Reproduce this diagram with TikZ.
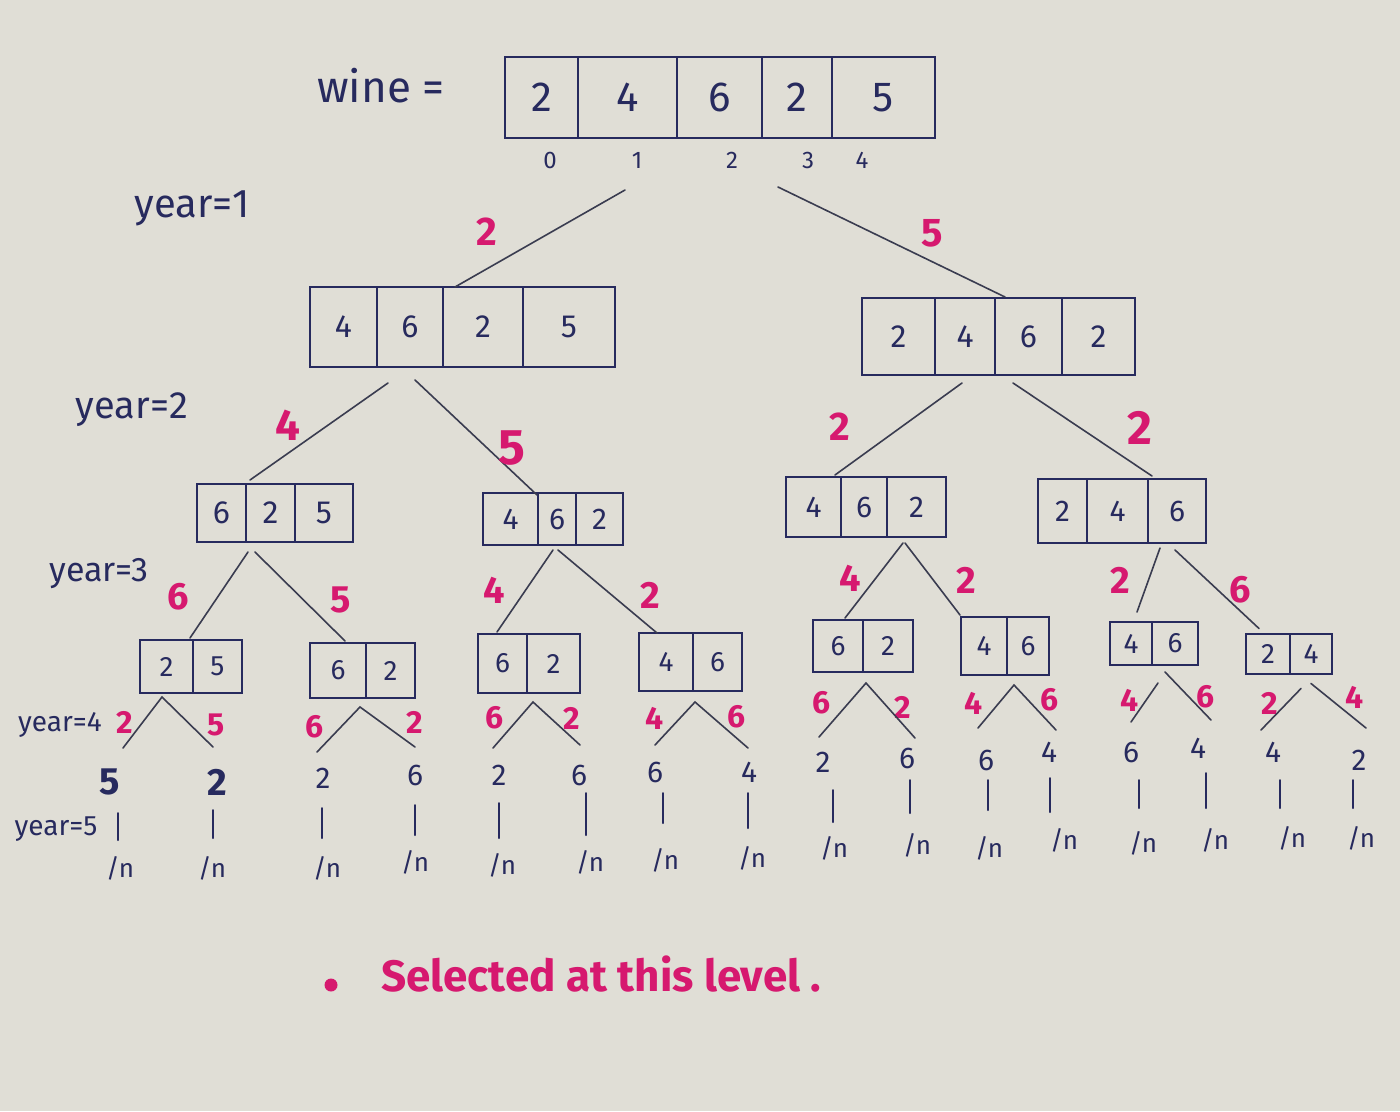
\documentclass[tikz,border=0pt]{standalone}
\usepackage{fontspec}
\setmainfont{Fira Sans}
\usetikzlibrary{calc}

\definecolor{paper}{HTML}{E0DED6}
\definecolor{ink}{HTML}{272A5E}
\definecolor{marker}{HTML}{D6196F}
\definecolor{pencil}{HTML}{3A3C50}

\newcommand\fs[1]{\fontsize{#1}{#1}\selectfont}

\tikzset{
  cell/.style={draw=ink, line width=2pt, inner sep=0pt, outer sep=0pt, text=ink, anchor=west},
  stub/.style={inner sep=0pt, outer sep=0pt, minimum size=0pt, anchor=west},
  edge/.style={draw=pencil, line width=1.6pt, line cap=round},
  stem/.style={draw=ink, line width=2pt, line cap=round},
  pick/.style={text=marker, font=\bfseries\fs{#1}, inner sep=0pt},
  pick/.default=36,
  hand/.style={text=ink, font=\fs{#1}, inner sep=0pt},
  hand/.default=28,
}

% one array drawn as a row of cells: name, left x, centre y, height, font size, widths/values
\newcommand\arrbox[6]{%
  \node[stub] (#1-0) at (#2,#3) {};
  \foreach \w/\v [count=\i] in {#6} {%
    \pgfmathtruncatemacro\j{\i-1}%
    \node[cell, minimum width=\w pt, minimum height=#4 pt, font=\fs{#5}] (#1-\i) at (#1-\j.east) {\v};
  }%
}

\begin{document}
\begin{tikzpicture}[x=1pt, y=-1pt]
\useasboundingbox (0,0) rectangle (1400,1111);
\fill[paper] (0,0) rectangle (1400,1111);

% ---- arrays ----
\node[hand=44] (wine) at (381,86) {wine =};
\arrbox{r}{505}{97.5}{81}{42}{73/2,99/4,85/6,70/2,103/5}
\foreach \k/\x in {0/550,1/637,2/732,3/808,4/862}
  \node[hand=24] (ix\k) at (\x,160) {\k};

\arrbox{a}{310}{327}{80}{32}{67/4,66/6,80/2,92/5}
\arrbox{b}{862}{336.5}{77}{32}{73/2,60/4,67/6,73/2}

\arrbox{p}{197}{513}{58}{32}{49/6,49/2,58/5}
\arrbox{q}{483}{519}{52}{30}{55/4,38/6,47/2}
\arrbox{s}{786}{507}{60}{30}{55/4,46/6,59/2}
\arrbox{t}{1038}{511}{64}{30}{49/2,61/4,58/6}

\arrbox{pa}{140}{666.5}{53}{28}{53/2,49/5}
\arrbox{pb}{310}{670.5}{55}{28}{56/6,49/2}
\arrbox{qa}{478}{663.5}{59}{28}{49/6,53/2}
\arrbox{qb}{639}{662}{58}{28}{54/4,49/6}
\arrbox{sa}{813}{646}{52}{28}{50/6,50/2}
\arrbox{sb}{961}{646}{58}{28}{46/4,42/6}
\arrbox{ta}{1110}{643.5}{43}{28}{42/4,46/6}
\arrbox{tb}{1246}{653.5}{40}{28}{44/2,42/4}

% ---- year labels ----
\node[hand=40] (y1) at (192,208) {year=1};
\node[hand=38] (y2) at (132,410) {year=2};
\node[hand=34] (y3) at (99,574) {year=3};
\node[hand=28] (y4) at (60,725) {year=4};
\node[hand=28] (y5) at (56,829) {year=5};

% ---- branches between arrays ----
\draw[edge] ([shift={(-2.5,52)}]r-2.south) -- ([shift={(-28,0)}]a-3.north);
\draw[edge] ([shift={(-19,49)}]r-4.south) -- ([shift={(-23.5,-1)}]b-3.north);
\draw[edge] ([shift={(-22,16)}]a-2.south) -- ([shift={(-20.5,-4)}]p-2.north);
\draw[edge] ([shift={(5,13)}]a-2.south) -- ([shift={(-20,2)}]q-2.north);
\draw[edge] ([shift={(-3,8)}]b-2.south) -- ([shift={(21.5,-2)}]s-1.north);
\draw[edge] ([shift={(-15.5,8)}]b-3.south) -- ([shift={(-25,-3)}]t-3.north);
\draw[edge] ([shift={(-22.5,10)}]p-2.south) -- ([shift={(-27.5,-2)}]pa-2.north);
\draw[edge] ([shift={(-15.5,10)}]p-2.south) -- ([shift={(7,-2)}]pb-1.north);
\draw[edge] ([shift={(-4,5)}]q-2.south) -- ([shift={(-5.5,-2)}]qa-1.north);
\draw[edge] ([shift={(1,5)}]q-2.south) -- ([shift={(-9,0)}]qb-1.north);
\draw[edge] ([shift={(-13.5,6)}]s-3.south) -- ([shift={(7,-2)}]sa-1.north);
\draw[edge] ([shift={(-11.5,6)}]s-3.south) -- ([shift={(-24,-2)}]sb-1.north);
\draw[edge] ([shift={(-17,5)}]t-3.south) -- ([shift={(6,-10)}]ta-1.north);
\draw[edge] ([shift={(-2,7)}]t-3.south) -- ([shift={(-9,-5)}]tb-1.north);

% ---- chosen values on each branch ----
\node[pick=40] (c1) at (487,232) {2};
\node[pick=40] (c2) at (932,233) {5};
\node[pick=44] (c3) at (288,425) {4};
\node[pick=50] (c4) at (512,448) {5};
\node[pick=40] (c5) at (840,427) {2};
\node[pick=48] (c6) at (1140,428) {2};
\foreach \k/\x/\y/\v in {7/178/597/6, 8/341/600/5, 9/494/590/4, 10/650/595/2,
    11/850/578/4, 12/966/580/2, 13/1120/580/2, 14/1240/590/6}
  \node[pick=38] (c\k) at (\x,\y) {\v};
\foreach \k/\x/\y/\v in {15/125/722/2, 16/216/725/5, 17/315/727/6, 18/415/722/2,
    19/495/718/6, 20/572/718/2, 21/655/718/4, 22/737/717/6,
    23/822/703/6, 24/903/707/2, 25/974/703/4, 26/1050/700/6,
    27/1130/700/4, 28/1206/697/6, 29/1270/703/2, 30/1355/697/4}
  \node[pick=32] (c\k) at (\x,\y) {\v};

% ---- last picks ----
\node[hand, font=\bfseries\fs{38}] (v1) at (110,782) {5};
\node[hand, font=\bfseries\fs{38}] (v2) at (217,782) {2};
\foreach \i/\x/\y/\v in {3/323/778/2, 4/415/775/6, 5/499/775/2, 6/579/775/6,
    7/655/772/6, 8/749/772/4, 9/823/762/2, 10/907/758/6,
    11/986/760/6, 12/1049/752/4, 13/1131/752/6, 14/1198/748/4,
    15/1273/752/4, 16/1359/760/2}
  \node[hand=30] (v\i) at (\x,\y) {\v};

\foreach \i/\x/\y in {1/120/868, 2/212/868, 3/327/868, 4/415/862, 5/502/865,
    6/590/862, 7/665/860, 8/752/858, 9/834/848, 10/917/845, 11/989/848,
    12/1064/840, 13/1143/843, 14/1215/840, 15/1292/838, 16/1361/838}
  \node[hand=26] (n\i) at (\x,\y) {/n};

% branches from the two-cell arrays down to the last picks
\foreach \c/\sx/\sy/\l/\lx/\ly/\r/\rx/\ry in {
    pa-1/-4.5/4/1/13/-34/2/-4/-35,
    pb-1/22/9/3/-6/-26/4/0/-28,
    qa-2/-20.5/9/5/-6/-27/6/1/-30,
    qb-2/-22.5/11/7/0/-27/8/-1/-24,
    sa-2/-22/11/9/-4/-25/10/8/-20,
    sb-2/-14/10/11/-8/-32/12/7/-22}
  \draw[edge] ([shift={(\lx,\ly)}]v\l.center) -- ([shift={(\sx,\sy)}]\c.south)
              -- ([shift={(\rx,\ry)}]v\r.center);
\draw[edge] ([shift={(-17,18)}]ta-2.south) -- ([shift={(0,-30)}]v13.center);
\draw[edge] ([shift={(-10,7)}]ta-2.south) -- ([shift={(13,-28)}]v14.center);
\draw[edge] ([shift={(-10,15)}]tb-2.south) -- ([shift={(-12,-22)}]v15.center);
\draw[edge] ([shift={(0,10)}]tb-2.south) -- ([shift={(7,-32)}]v16.center);

% short stems from each last pick down to its /n
\foreach \i/\ax/\ay/\bx/\by in {
    1/8/31/-2/-28, 2/-4/28/1/-30, 3/-1/30/-5/-30, 4/0/30/0/-27,
    5/0/28/-3/-27, 6/7/18/-4/-27, 7/8/21/-2/-37, 8/-1/21/-4/-30,
    9/10/28/-1/-26, 10/3/22/-7/-32, 11/2/20/-1/-38, 12/1/26/-14/-28,
    13/8/28/-4/-35, 14/8/25/-9/-32, 15/7/28/-12/-30, 16/-6/20/-8/-30}
  \draw[stem] ([shift={(\ax,\ay)}]v\i.center) -- ([shift={(\bx,\by)}]n\i.center);

% ---- legend ----
\node[circle, fill=marker, minimum size=13pt, inner sep=0pt] (dot) at (331,985) {};
\node[pick=44, anchor=west] (note) at (381,974) {Selected at this level .};
\end{tikzpicture}
\end{document}
